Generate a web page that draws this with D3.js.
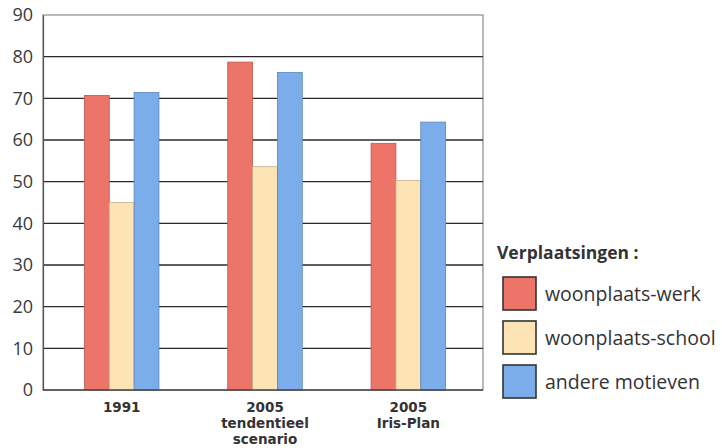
<!DOCTYPE html>
<html><head><meta charset="utf-8">
<script src="https://cdn.jsdelivr.net/npm/d3@7"></script>
<style>body{margin:0;background:#fff}svg{display:block}</style>
</head><body><svg id="c" width="722" height="448"></svg>
<script>
const categories = [["1991"], ["2005", "tendentieel", "scenario"], ["2005", "Iris-Plan"]];
const seriesNames = ["woonplaats-werk", "woonplaats-school", "andere motieven"];
const werk = [70.7, 78.7, 59.2];
const school = [45, 53.6, 50.3];
const andere = [71.4, 76.2, 64.3];
const yTicks = [0, 10, 20, 30, 40, 50, 60, 70, 80, 90];
const colors = ["#ec7468", "#fde4b4", "#7badea"];
const strokes = ["#b85a50", "#c8b08a", "#5b86b8"];

const series = [werk, school, andere];
const svg = d3.select("#c");
const L = 43, R = 483, T = 15, B = 390;
const y = d3.scaleLinear().domain([0, 90]).range([B, T]);
const x0 = d3.scaleBand().domain(d3.range(categories.length)).range([50, 480]).paddingInner(0.48).paddingOuter(0.24);
const x1 = d3.scaleBand().domain(d3.range(series.length)).range([0, x0.bandwidth()]);

// frame
svg.append("rect").attr("x", L).attr("y", T).attr("width", R - L).attr("height", B - T)
  .attr("fill", "none").attr("stroke", "#8a8a8a").attr("stroke-width", 1.2);

// gridlines
svg.append("g").selectAll("line").data(yTicks.filter(d => d > 0 && d < 90)).join("line")
  .attr("x1", L).attr("x2", R).attr("y1", d => y(d)).attr("y2", d => y(d))
  .attr("stroke", "#2a2a2a").attr("stroke-width", 1.4);

// y axis labels
const yAxis = d3.axisLeft(y).tickValues(yTicks).tickSize(0).tickPadding(10);
const ga = svg.append("g").attr("transform", `translate(${L},0)`).call(yAxis);
ga.select(".domain").attr("stroke", "#555").attr("stroke-width", 1.2);
ga.selectAll("text").attr("font-family", "Open Sans, sans-serif").attr("font-size", 18).attr("fill", "#3a3a3a");

// bars
const gs = svg.append("g").selectAll("g").data(categories.map((c, i) => i)).join("g")
  .attr("transform", i => `translate(${x0(i)},0)`);
gs.selectAll("rect").data(i => series.map((s, k) => ({k, v: s[i]}))).join("rect")
  .attr("x", d => x1(d.k)).attr("width", x1.bandwidth())
  .attr("y", d => y(d.v)).attr("height", d => y(0) - y(d.v))
  .attr("fill", d => colors[d.k]).attr("stroke", d => strokes[d.k]).attr("stroke-width", 0.8);

// baseline
svg.append("line").attr("x1", L).attr("x2", R).attr("y1", B).attr("y2", B).attr("stroke", "#444").attr("stroke-width", 1.4);

// category labels (one text per line)
const lines = [];
categories.forEach((c, i) => c.forEach((t, j) => lines.push({i, j, t})));
svg.append("g").selectAll("text").data(lines).join("text")
  .attr("x", d => x0(d.i) + x0.bandwidth() / 2).attr("y", d => 412 + d.j * 16)
  .attr("text-anchor", "middle").attr("font-family", "DejaVu Sans, sans-serif")
  .attr("font-size", 13.5).attr("font-weight", "bold").attr("fill", "#333").text(d => d.t);

// legend
const lg = svg.append("g");
lg.append("text").attr("x", 497).attr("y", 259).text("Verplaatsingen :")
  .attr("font-family", "Open Sans, sans-serif").attr("font-size", 17.5).attr("font-weight", "bold").attr("fill", "#333");
const items = lg.selectAll("g").data(seriesNames).join("g")
  .attr("transform", (d, i) => `translate(503,${277 + i * 44})`);
items.append("rect").attr("width", 33).attr("height", 33)
  .attr("fill", (d, i) => colors[i]).attr("stroke", "#333").attr("stroke-width", 1.6);
items.append("text").attr("x", 42).attr("y", 24).text(d => d)
  .attr("font-family", "Open Sans, sans-serif").attr("font-size", 19.5).attr("fill", "#333");
</script></body></html>
